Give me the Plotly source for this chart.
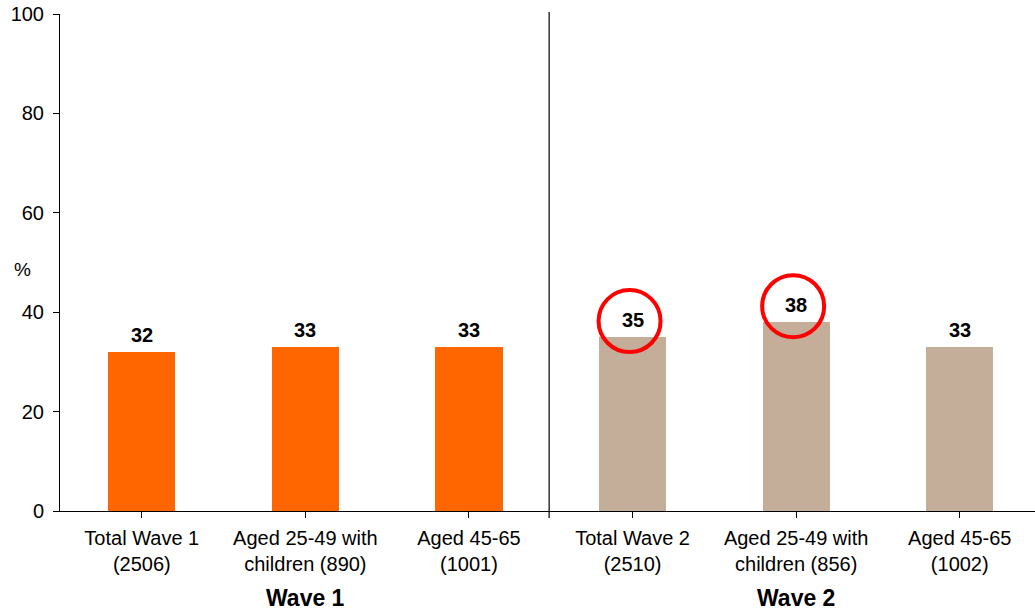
import plotly.graph_objects as go

categories = [
    "Total Wave 1<br>(2506)",
    "Aged 25-49 with<br>children (890)",
    "Aged 45-65<br>(1001)",
    "Total Wave 2<br>(2510)",
    "Aged 25-49 with<br>children (856)",
    "Aged 45-65<br>(1002)",
]
values = [32, 33, 33, 35, 38, 33]
bar_colors = ["#FF6600", "#FF6600", "#FF6600", "#C4AE9A", "#C4AE9A", "#C4AE9A"]
wave_labels = ["Wave 1", "Wave 2"]
wave_centers = [1, 4]
highlighted = [3, 4]

FONT = "Liberation Sans, Arial, sans-serif"
xs = list(range(len(categories)))

fig = go.Figure()
fig.add_trace(go.Bar(
    x=xs, y=values, width=0.41,
    marker=dict(color=bar_colors, line=dict(width=0)),
    hoverinfo="skip",
))

annotations = []
# value labels above each bar
for x, v in zip(xs, values):
    annotations.append(dict(
        x=x, y=v, xref="x", yref="y", text=f"<b>{v}</b>",
        showarrow=False, yanchor="bottom", yshift=4,
        font=dict(family=FONT, size=20, color="black"),
    ))
# group titles under the category labels
for x, label in zip(wave_centers, wave_labels):
    annotations.append(dict(
        x=x, y=0, xref="x", yref="paper", text=f"<b>{label}</b>",
        showarrow=False, yanchor="middle", yshift=-87,
        font=dict(family=FONT, size=23, color="black"),
    ))
# axis unit
annotations.append(dict(
    x=0, y=48.5, xref="paper", yref="y", xanchor="center", xshift=-38,
    text="%", showarrow=False, font=dict(family=FONT, size=19, color="black"),
))

shapes = [dict(
    type="line", xref="x", yref="paper", x0=2.49, x1=2.49, y0=-0.014, y1=1.004,
    line=dict(color="black", width=1.2),
)]
for i in highlighted:
    shapes.append(dict(
        type="circle", xref="x", yref="y",
        xsizemode="pixel", ysizemode="pixel",
        xanchor=xs[i], yanchor=values[i],
        x0=-34, x1=28, y0=-15, y1=47,
        line=dict(color="#FF0000", width=4),
    ))

fig.update_layout(
    width=1035, height=611,
    margin=dict(l=60, r=0, t=14, b=100),
    plot_bgcolor="white", paper_bgcolor="white",
    showlegend=False,
    bargap=0,
    annotations=annotations,
    shapes=shapes,
    xaxis=dict(
        range=[-0.5, 5.46],
        tickmode="array", tickvals=xs, ticktext=categories,
        tickson="boundaries", ticks="outside", ticklen=6, tickcolor="black",
        showline=True, linecolor="black", linewidth=1,
        showgrid=False, zeroline=False,
        ticklabelstandoff=3,
        tickfont=dict(family=FONT, size=20, color="black"),
    ),
    yaxis=dict(
        range=[0, 100], dtick=20,
        ticks="outside", ticklen=6, tickcolor="black",
        showline=True, linecolor="black", linewidth=1,
        showgrid=False, zeroline=False,
        ticklabelstandoff=5,
        tickfont=dict(family=FONT, size=20, color="black"),
    ),
)

fig.write_html("out.html")
